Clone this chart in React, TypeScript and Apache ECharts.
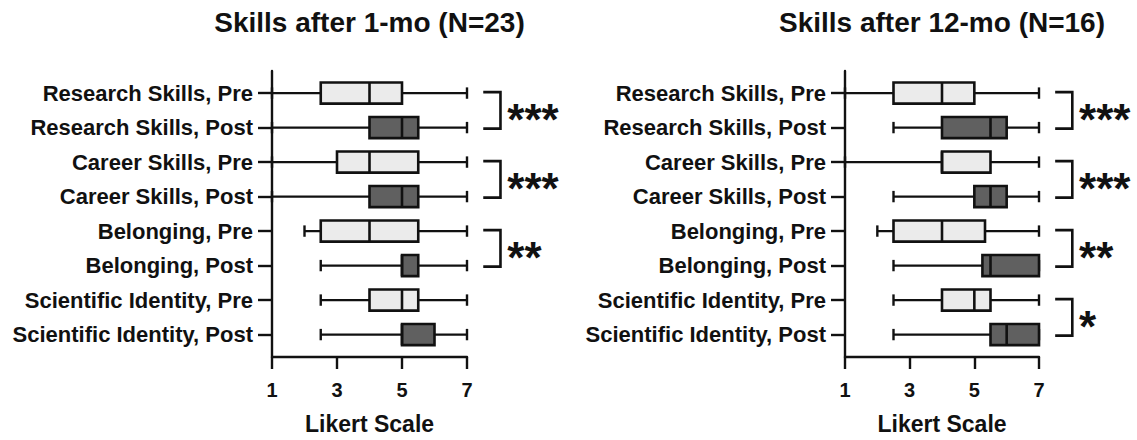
import React, { useEffect, useRef } from 'react';
import * as echarts from 'echarts';

// ---------- data ----------
const CATEGORIES = [
  'Research Skills, Pre',
  'Research Skills, Post',
  'Career Skills, Pre',
  'Career Skills, Post',
  'Belonging, Pre',
  'Belonging, Post',
  'Scientific Identity, Pre',
  'Scientific Identity, Post',
];
const CATEGORY_INDEX = [0, 1, 2, 3, 4, 5, 6, 7];

const TITLE_1MO = 'Skills after 1-mo (N=23)';
const TITLE_12MO = 'Skills after 12-mo (N=16)';
const X_TICKS = [1, 3, 5, 7];
const X_NAME = 'Likert Scale';

// [min, Q1, median, Q3, max]
const BOX_1MO = [
  [1, 2.5, 4, 5, 7],
  [1, 4, 5, 5.5, 7],
  [1, 3, 4, 5.5, 7],
  [1, 4, 5, 5.5, 7],
  [2, 2.5, 4, 5.5, 7],
  [2.5, 5, 5, 5.5, 7],
  [2.5, 4, 5, 5.5, 7],
  [2.5, 5, 5, 6, 7],
];
const BOX_12MO = [
  [1, 2.5, 4, 5, 7],
  [2.5, 4, 5.5, 6, 7],
  [1, 4, 4, 5.5, 7],
  [2.5, 5, 5.5, 6, 7],
  [2, 2.5, 4, 5.33, 7],
  [2.5, 5.25, 5.5, 7, 7],
  [2.5, 4, 5, 5.5, 7],
  [2.5, 5.5, 6, 7, 7],
];

const SIG_PAIRS_1MO = [[0, 1], [2, 3], [4, 5]];
const SIG_LABELS_1MO = ['***', '***', '**'];
const SIG_PAIRS_12MO = [[0, 1], [2, 3], [4, 5], [6, 7]];
const SIG_LABELS_12MO = ['***', '***', '**', '*'];

// ---------- style ----------
const FONT = '"Liberation Sans", Arial, Helvetica, sans-serif';
const INK = '#111111';
const LIGHT = '#ebebeb';
const DARK = '#606060';
const BR_X0 = 7.5;
const BR_X1 = 8.03;
const STAR_X = 8.24;
const STAR_SIZE = 44;
const LINE_W = 2.4;

const PANELS = [
  { grid: { left: 272, top: 71, width: 195, height: 292 }, title: TITLE_1MO, box: BOX_1MO, pairs: SIG_PAIRS_1MO, labels: SIG_LABELS_1MO },
  { grid: { left: 845, top: 71, width: 194, height: 292 }, title: TITLE_12MO, box: BOX_12MO, pairs: SIG_PAIRS_12MO, labels: SIG_LABELS_12MO },
];

function buildOption() {
  const grid: any[] = [];
  const xAxis: any[] = [];
  const yAxis: any[] = [];
  const series: any[] = [];
  const graphic: any[] = [];

  PANELS.forEach((p, i) => {
    grid.push({ ...p.grid, containLabel: false });
    xAxis.push({
      type: 'value',
      gridIndex: i,
      min: 1,
      max: 7,
      axisLine: { show: true, onZero: false, lineStyle: { color: INK, width: LINE_W } },
      axisTick: { show: true, length: 12, customValues: X_TICKS, lineStyle: { color: INK, width: LINE_W } },
      axisLabel: {
        customValues: X_TICKS,
        color: INK,
        fontSize: 20,
        fontWeight: 'bold',
        fontFamily: FONT,
        margin: 23,
      },
      splitLine: { show: false },
      name: X_NAME,
      nameLocation: 'middle',
      nameGap: 55,
      nameTextStyle: { color: INK, fontSize: 23, fontWeight: 'bold', fontFamily: FONT },
    });
    yAxis.push({
      type: 'value',
      gridIndex: i,
      inverse: true,
      min: -0.64,
      max: 7.65,
      axisLine: { show: true, onZero: false, lineStyle: { color: INK, width: LINE_W } },
      axisTick: { show: true, length: 14, customValues: CATEGORY_INDEX, lineStyle: { color: INK, width: LINE_W } },
      axisLabel: {
        customValues: CATEGORY_INDEX,
        formatter: (v: number) => CATEGORIES[Math.round(v)] ?? '',
        color: INK,
        fontSize: 22,
        fontWeight: 'bold',
        fontFamily: FONT,
        margin: 19,
      },
      splitLine: { show: false },
    });

    series.push({
      type: 'custom',
      xAxisIndex: i,
      yAxisIndex: i,
      clip: false,
      silent: true,
      data: p.box.map((b, k) => [k, ...b]),
      encode: { x: [1, 2, 3, 4, 5], y: 0 },
      renderItem: (params: any, api: any) => {
        const k = api.value(0);
        const pts = [1, 2, 3, 4, 5].map((d) => api.coord([api.value(d), k]));
        const yc = pts[0][1];
        const row = api.size([0, 1])[1];
        const hb = row * 0.307;
        const hc = row * 0.165;
        const fill = k % 2 === 0 ? LIGHT : DARK;
        const ls = { stroke: INK, lineWidth: LINE_W };
        return {
          type: 'group',
          children: [
            { type: 'line', shape: { x1: pts[0][0], y1: yc, x2: pts[4][0], y2: yc }, style: ls },
            { type: 'line', shape: { x1: pts[0][0], y1: yc - hc, x2: pts[0][0], y2: yc + hc }, style: ls },
            { type: 'line', shape: { x1: pts[4][0], y1: yc - hc, x2: pts[4][0], y2: yc + hc }, style: ls },
            {
              type: 'rect',
              shape: { x: pts[1][0], y: yc - hb, width: pts[3][0] - pts[1][0], height: 2 * hb },
              style: { fill, stroke: INK, lineWidth: 2.6 },
            },
            { type: 'line', shape: { x1: pts[2][0], y1: yc - hb, x2: pts[2][0], y2: yc + hb }, style: { stroke: INK, lineWidth: 2.6 } },
          ],
        };
      },
    });

    series.push({
      type: 'custom',
      xAxisIndex: i,
      yAxisIndex: i,
      clip: false,
      silent: true,
      data: p.pairs,
      renderItem: (params: any, api: any) => {
        const a = api.value(0);
        const b = api.value(1);
        const pa = api.coord([BR_X0, a]);
        const pb = api.coord([BR_X1, b]);
        const xl = pa[0];
        const xr = pb[0];
        const yt = pa[1] - 1;
        const yb = pb[1] + 1;
        const tx = api.coord([STAR_X, a])[0];
        return {
          type: 'group',
          children: [
            {
              type: 'polyline',
              shape: { points: [[xl, yt], [xr, yt], [xr, yb], [xl, yb]] },
              style: { stroke: INK, lineWidth: 2.6, fill: 'none' },
            },
            {
              type: 'text',
              x: tx,
              y: (yt + yb) / 2 + STAR_SIZE * 0.2,
              style: {
                text: p.labels[params.dataIndex],
                fontSize: STAR_SIZE,
                fontWeight: 'bold',
                fontFamily: FONT,
                fill: INK,
                align: 'left',
                verticalAlign: 'middle',
              },
            },
          ],
        };
      },
    });

    graphic.push({
      type: 'text',
      x: p.grid.left + p.grid.width / 2,
      y: 22,
      style: {
        text: p.title,
        fontSize: 28,
        fontWeight: 'bold',
        fontFamily: FONT,
        fill: INK,
        align: 'center',
        verticalAlign: 'middle',
      },
    });
  });

  return {
    animation: false,
    backgroundColor: '#ffffff',
    grid,
    xAxis,
    yAxis,
    series,
    graphic,
  };
}

export default function App() {
  const ref = useRef<HTMLDivElement>(null);
  useEffect(() => {
    document.body.style.margin = '0';
    if (!ref.current) return;
    const chart = echarts.init(ref.current, undefined, { renderer: 'svg' });
    chart.setOption(buildOption() as any);
    return () => chart.dispose();
  }, []);
  return <div ref={ref} style={{ position: 'absolute', left: 0, top: 0, width: 1137, height: 440 }} />;
}
